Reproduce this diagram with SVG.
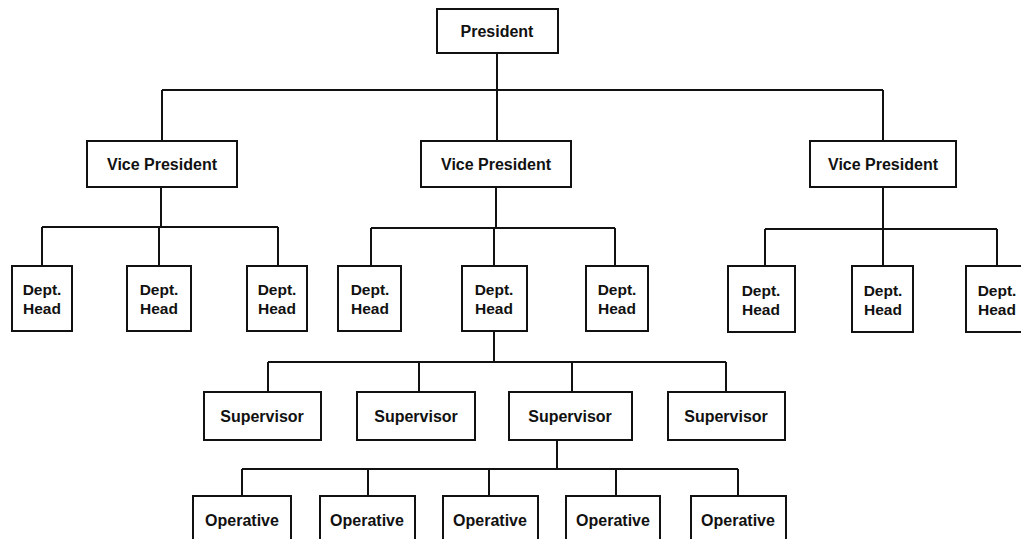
<svg xmlns="http://www.w3.org/2000/svg" width="1021" height="539" viewBox="0 0 1021 539">
<style>
.box{fill:#fff;stroke:#111;stroke-width:2}
.t{font-family:"Liberation Sans",Arial,sans-serif;font-weight:bold;font-size:16px;fill:#111;text-anchor:middle}
.d{font-size:15.5px}
.c{fill:none;stroke:#111;stroke-width:2}
</style>
<rect width="1021" height="539" fill="#fff"/>
<g id="connectors" class="c">
<path d="M497 53V90M162 90H883M162 90V141M497 90V141M883 90V141"/>
<path d="M161 187V227M42 227H278M42 227V266M159 227V266M278 227V266"/>
<path d="M496 187V228M371 228H615M371 228V266M494 228V266M615 228V266"/>
<path d="M883 187V229M765 229H997M765 229V266M883 229V266M997 229V266"/>
<path d="M494 331V362M268 362H726M268 362V392M419 362V392M572 362V392M726 362V392"/>
<path d="M557 440V469M242 469H738M242 469V496M368 469V496M489 469V496M616 469V496M738 469V496"/>
</g>
<g id="president"><rect class="box" x="437" y="9" width="121" height="44"/><text class="t" x="497" y="37">President</text></g>
<g id="vp1"><rect class="box" x="87" y="141" width="150" height="46"/><text class="t" x="162" y="170">Vice President</text></g>
<g id="vp2"><rect class="box" x="421" y="141" width="150" height="46"/><text class="t" x="496" y="170">Vice President</text></g>
<g id="vp3"><rect class="box" x="810" y="141" width="146" height="46"/><text class="t" x="883" y="170">Vice President</text></g>
<g id="dh1"><rect class="box" x="12" y="266" width="60" height="65"/><text class="t d" x="42" y="295">Dept.<tspan x="42" y="314">Head</tspan></text></g>
<g id="dh2"><rect class="box" x="127" y="266" width="64" height="65"/><text class="t d" x="159" y="295">Dept.<tspan x="159" y="314">Head</tspan></text></g>
<g id="dh3"><rect class="box" x="247" y="266" width="60" height="65"/><text class="t d" x="277" y="295">Dept.<tspan x="277" y="314">Head</tspan></text></g>
<g id="dh4"><rect class="box" x="338" y="266" width="63" height="65"/><text class="t d" x="370" y="295">Dept.<tspan x="370" y="314">Head</tspan></text></g>
<g id="dh5"><rect class="box" x="462" y="266" width="65" height="65"/><text class="t d" x="494" y="295">Dept.<tspan x="494" y="314">Head</tspan></text></g>
<g id="dh6"><rect class="box" x="586" y="266" width="62" height="65"/><text class="t d" x="617" y="295">Dept.<tspan x="617" y="314">Head</tspan></text></g>
<g id="dh7"><rect class="box" x="728" y="266" width="67" height="66"/><text class="t d" x="761" y="296">Dept.<tspan x="761" y="315">Head</tspan></text></g>
<g id="dh8"><rect class="box" x="852" y="266" width="61" height="66"/><text class="t d" x="883" y="296">Dept.<tspan x="883" y="315">Head</tspan></text></g>
<g id="dh9"><rect class="box" x="966" y="266" width="62" height="66"/><text class="t d" x="997" y="296">Dept.<tspan x="997" y="315">Head</tspan></text></g>
<g id="sup1"><rect class="box" x="204" y="392" width="117" height="48"/><text class="t" x="262" y="422">Supervisor</text></g>
<g id="sup2"><rect class="box" x="357" y="392" width="118" height="48"/><text class="t" x="416" y="422">Supervisor</text></g>
<g id="sup3"><rect class="box" x="509" y="392" width="123" height="48"/><text class="t" x="570" y="422">Supervisor</text></g>
<g id="sup4"><rect class="box" x="668" y="392" width="117" height="48"/><text class="t" x="726" y="422">Supervisor</text></g>
<g id="op1"><rect class="box" x="193" y="496" width="98" height="50"/><text class="t" x="242" y="526">Operative</text></g>
<g id="op2"><rect class="box" x="320" y="496" width="95" height="50"/><text class="t" x="367" y="526">Operative</text></g>
<g id="op3"><rect class="box" x="443" y="496" width="95" height="50"/><text class="t" x="490" y="526">Operative</text></g>
<g id="op4"><rect class="box" x="566" y="496" width="94" height="50"/><text class="t" x="613" y="526">Operative</text></g>
<g id="op5"><rect class="box" x="691" y="496" width="95" height="50"/><text class="t" x="738" y="526">Operative</text></g>
</svg>
